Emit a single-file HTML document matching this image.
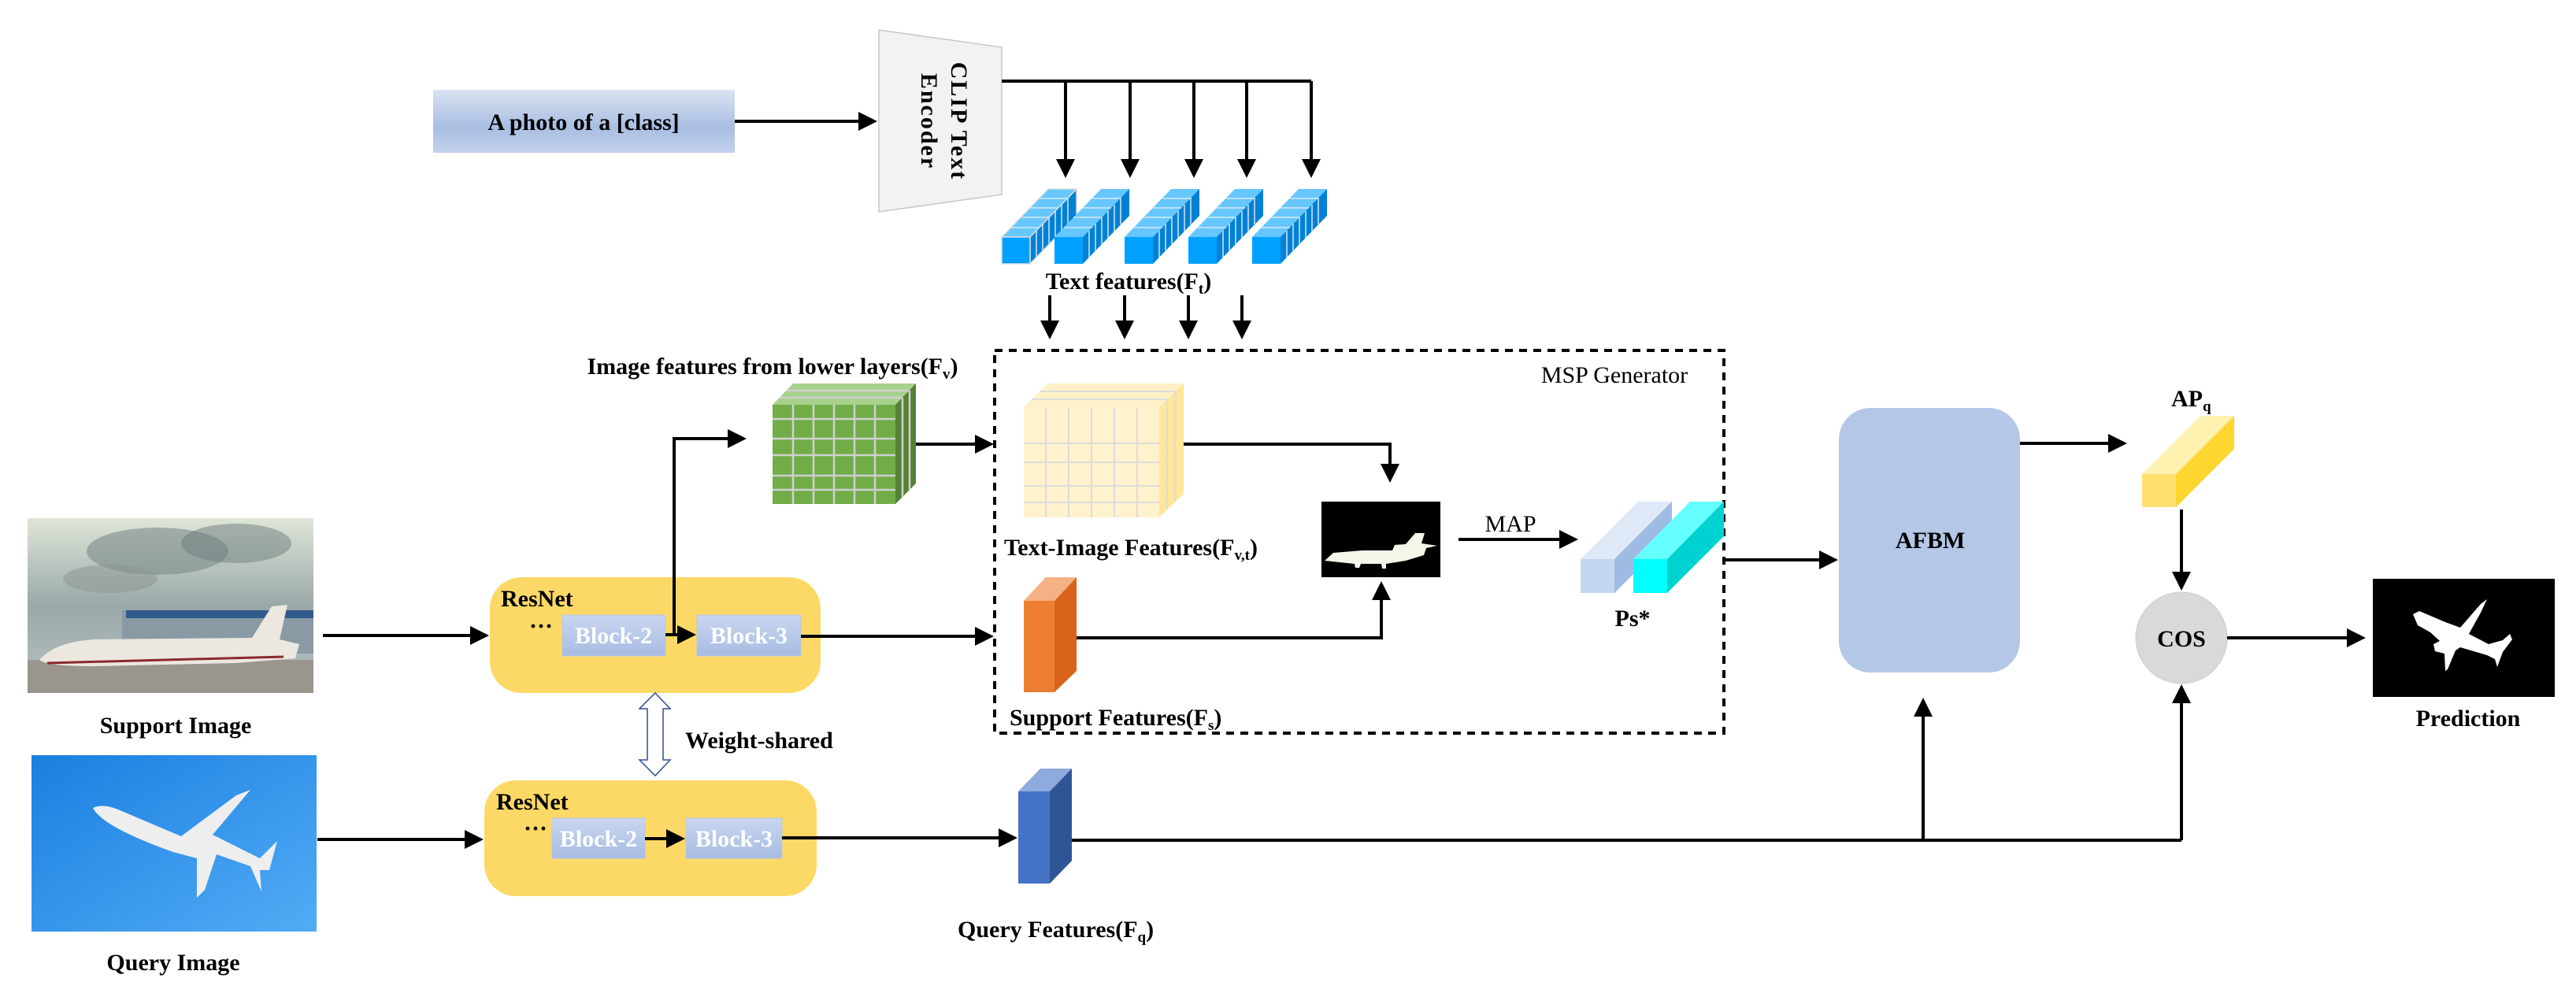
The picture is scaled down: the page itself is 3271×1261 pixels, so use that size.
<!DOCTYPE html>
<html><head><meta charset="utf-8"><style>
html,body{margin:0;padding:0;background:#fff}
svg{display:block}
text{font-family:"Liberation Serif",serif;font-weight:bold;font-size:30px;fill:#000}
</style></head><body>
<svg width="3271" height="1261" viewBox="0 0 3271 1261" xmlns="http://www.w3.org/2000/svg">
<defs>
<marker id="ah" markerWidth="6" markerHeight="6" refX="5" refY="3" orient="auto" markerUnits="strokeWidth">
<path d="M0,0 L6,3 L0,6 Z" fill="#000"/></marker>
<linearGradient id="gtb" x1="0" y1="0" x2="0" y2="1">
<stop offset="0" stop-color="#dae3f3"/><stop offset="0.6" stop-color="#a9bee2"/><stop offset="1" stop-color="#c3d1ec"/></linearGradient>
<linearGradient id="gbl" x1="0" y1="0" x2="0" y2="1">
<stop offset="0" stop-color="#c9d6ef"/><stop offset="1" stop-color="#a7bce3"/></linearGradient>
<linearGradient id="sky" x1="0" y1="0" x2="0" y2="1">
<stop offset="0" stop-color="#dfe6d8"/><stop offset="0.5" stop-color="#9aa8a8"/><stop offset="1" stop-color="#b8c2c4"/></linearGradient>
<linearGradient id="qsky" x1="0" y1="0" x2="1" y2="1">
<stop offset="0" stop-color="#1a7fe0"/><stop offset="1" stop-color="#52acf5"/></linearGradient>
</defs>

<!-- text prompt -->
<rect x="550" y="114" width="383" height="80" fill="url(#gtb)"/>
<text x="741" y="165" text-anchor="middle">A photo of a [class]</text>
<line x1="933" y1="154" x2="1110" y2="154" stroke="#000" stroke-width="4" marker-end="url(#ah)"/>

<!-- CLIP encoder -->
<polygon points="1116,38 1272,60 1272,247 1116,269" fill="#f2f2f2" stroke="#c8c8c8" stroke-width="1.5"/>
<text transform="translate(1208,154) rotate(90)" text-anchor="middle" font-size="32" letter-spacing="2">CLIP Text</text>
<text transform="translate(1170,154) rotate(90)" text-anchor="middle" font-size="32" letter-spacing="2">Encoder</text>

<!-- branch lines -->
<g stroke="#000" stroke-width="4" fill="none">
<line x1="1272" y1="103" x2="1665" y2="103"/>
<line x1="1353" y1="103" x2="1353" y2="222" marker-end="url(#ah)"/>
<line x1="1435" y1="103" x2="1435" y2="222" marker-end="url(#ah)"/>
<line x1="1516" y1="103" x2="1516" y2="222" marker-end="url(#ah)"/>
<line x1="1583" y1="103" x2="1583" y2="222" marker-end="url(#ah)"/>
<line x1="1665" y1="103" x2="1665" y2="222" marker-end="url(#ah)"/>
<line x1="1333" y1="375" x2="1333" y2="427" marker-end="url(#ah)"/>
<line x1="1428" y1="375" x2="1428" y2="427" marker-end="url(#ah)"/>
<line x1="1509" y1="375" x2="1509" y2="427" marker-end="url(#ah)"/>
<line x1="1577" y1="375" x2="1577" y2="427" marker-end="url(#ah)"/>
</g>

<!-- text feature bars -->
<g stroke="#ddd" stroke-width="1.5">
<g id="bar">
<polygon points="1272,301 1308,301 1367,240 1331,240" fill="#66c7ff"/>
<polygon points="1308,301 1308,335 1367,274 1367,240" fill="#0081d6"/>
<rect x="1272" y="301" width="36" height="34" fill="#00a0ff"/>
<g stroke="#d8e8f0" stroke-width="1.5">
<line x1="1316" y1="293" x2="1316" y2="327"/><line x1="1324" y1="284" x2="1324" y2="318"/>
<line x1="1332" y1="276" x2="1332" y2="310"/><line x1="1340" y1="268" x2="1340" y2="302"/>
<line x1="1348" y1="260" x2="1348" y2="294"/><line x1="1356" y1="251" x2="1356" y2="285"/>
<line x1="1284" y1="289" x2="1320" y2="289"/><line x1="1296" y1="276" x2="1332" y2="276"/>
<line x1="1308" y1="264" x2="1344" y2="264"/><line x1="1320" y1="252" x2="1356" y2="252"/>
</g></g>
</g>
<use href="#bar" x="67"/>
<use href="#bar" x="156"/>
<use href="#bar" x="237"/>
<use href="#bar" x="318"/>
<text x="1433" y="367" text-anchor="middle">Text features(F<tspan font-size="19" dy="6">t</tspan><tspan dy="-6">)</tspan></text>

<!-- Image features label + green cube -->
<text x="981" y="475" text-anchor="middle">Image features from lower layers(F<tspan font-size="19" dy="6">v</tspan><tspan dy="-6">)</tspan></text>
<polygon points="981,514 1137,514 1163,487 1007,487" fill="#a9d18e"/>
<polygon points="1137,514 1137,640 1163,614 1163,487" fill="#548235"/>
<rect x="981" y="514" width="156" height="126" fill="#70ad47"/>
<g stroke="#d0d0d0" stroke-width="2.5">
<line x1="1007" y1="514" x2="1007" y2="640"/><line x1="1033" y1="514" x2="1033" y2="640"/>
<line x1="1059" y1="514" x2="1059" y2="640"/><line x1="1085" y1="514" x2="1085" y2="640"/>
<line x1="1111" y1="514" x2="1111" y2="640"/>
<line x1="981" y1="532" x2="1137" y2="532"/><line x1="981" y1="557" x2="1137" y2="557"/>
<line x1="981" y1="578" x2="1137" y2="578"/><line x1="981" y1="604" x2="1137" y2="604"/>
<line x1="981" y1="622" x2="1137" y2="622"/>
<line x1="990" y1="505" x2="1146" y2="505"/><line x1="999" y1="496" x2="1155" y2="496"/>
<line x1="1146" y1="505" x2="1146" y2="631"/><line x1="1155" y1="496" x2="1155" y2="622"/>
</g>

<!-- Dashed MSP box -->
<rect x="1263" y="445" width="926" height="486" fill="none" stroke="#000" stroke-width="4" stroke-dasharray="10 8"/>
<text x="2050" y="486" text-anchor="middle" font-weight="normal" font-size="31" style="font-weight:normal">MSP Generator</text>

<!-- text-image cube -->
<polygon points="1300,517 1472,517 1503,487 1331,487" fill="#fff0c8"/>
<polygon points="1472,517 1472,657 1503,627 1503,487" fill="#ffe699"/>
<rect x="1300" y="517" width="172" height="140" fill="#fff2cc"/>
<g stroke="#dcdcdc" stroke-width="2">
<line x1="1328" y1="517" x2="1328" y2="657"/><line x1="1357" y1="517" x2="1357" y2="657"/>
<line x1="1386" y1="517" x2="1386" y2="657"/><line x1="1415" y1="517" x2="1415" y2="657"/>
<line x1="1444" y1="517" x2="1444" y2="657"/>
<line x1="1300" y1="563" x2="1472" y2="563"/><line x1="1300" y1="587" x2="1472" y2="587"/>
<line x1="1300" y1="617" x2="1472" y2="617"/><line x1="1300" y1="638" x2="1472" y2="638"/>
<line x1="1310" y1="507" x2="1482" y2="507"/><line x1="1320" y1="497" x2="1492" y2="497"/>
<line x1="1482" y1="507" x2="1482" y2="647"/><line x1="1492" y1="497" x2="1492" y2="637"/>
</g>
<text x="1275" y="705">Text-Image Features(F<tspan font-size="19" dy="6">v,t</tspan><tspan dy="-6">)</tspan></text>

<!-- support features block -->
<polygon points="1300,763 1339,763 1367,733 1328,733" fill="#f4b183"/>
<polygon points="1339,763 1339,879 1367,852 1367,733" fill="#d9631a"/>
<rect x="1300" y="763" width="39" height="116" fill="#ed7d31"/>
<text x="1282" y="921">Support Features(F<tspan font-size="19" dy="6">s</tspan><tspan dy="-6">)</tspan></text>

<!-- mask -->
<rect x="1678" y="637" width="151" height="96" fill="#000"/>
<path d="M1682,712 L1693,702 L1730,699 L1768,699 L1771,692 L1785,691 L1797,677 L1809,677 L1805,690 L1825,693 L1811,696 L1808,705 L1785,712 L1760,716 L1760,722 L1755,722 L1754,716 L1728,716 L1726,721 L1721,721 L1720,716 Z" fill="#f5f5ea"/>

<text x="1918" y="675" text-anchor="middle" style="font-weight:normal">MAP</text>

<!-- Ps* -->
<polygon points="2007,710 2050,710 2123,637 2080,637" fill="#dfe9f8"/>
<polygon points="2050,710 2050,753 2123,680 2123,637" fill="#a0bbe3"/>
<rect x="2007" y="710" width="43" height="43" fill="#c5d6f0"/>
<polygon points="2074,710 2117,710 2189,637 2146,637" fill="#66ffff"/>
<polygon points="2117,710 2117,753 2189,681 2189,637" fill="#00d2d2"/>
<rect x="2074" y="710" width="43" height="43" fill="#00ffff"/>
<text x="2073" y="795" text-anchor="middle">Ps*</text>

<!-- AFBM -->
<rect x="2335" y="518" width="230" height="336" rx="40" ry="40" fill="#b4c7e7"/>
<text x="2451" y="696" text-anchor="middle">AFBM</text>

<!-- APq -->
<text x="2757" y="516">AP<tspan font-size="19" dy="6">q</tspan></text>
<polygon points="2720,602 2763,602 2837,528 2794,528" fill="#fff2b0"/>
<polygon points="2763,602 2763,644 2837,570 2837,528" fill="#ffd530"/>
<rect x="2720" y="602" width="43" height="42" fill="#ffe070"/>

<!-- COS -->
<ellipse cx="2770" cy="810" rx="58" ry="58" fill="#d9d9d9" stroke="#ccc" stroke-width="1"/>
<text x="2770" y="821" text-anchor="middle">COS</text>

<!-- prediction -->
<rect x="3013" y="735" width="231" height="150" fill="#000"/>
<path d="M3064,780 L3072,776 L3105,790 L3124,797 L3150,767 L3158,761 L3150,778 L3135,805 L3160,818 L3178,813 L3187,805 L3190,812 L3178,828 L3171,847 L3168,837 L3158,832 L3124,822 L3118,826 L3108,850 L3105,852 L3104,830 L3092,827 L3090,818 L3098,814 L3086,803 L3070,794 Z" fill="#fff"/>
<text x="3134" y="922" text-anchor="middle">Prediction</text>

<!-- support image -->
<rect x="35" y="658" width="363" height="222" fill="url(#sky)"/>
<ellipse cx="200" cy="700" rx="90" ry="30" fill="#7d8a8a" opacity="0.6"/>
<ellipse cx="300" cy="690" rx="70" ry="25" fill="#6e7b7c" opacity="0.5"/>
<ellipse cx="140" cy="735" rx="60" ry="18" fill="#8a9494" opacity="0.5"/>
<rect x="155" y="775" width="243" height="55" fill="#8a9aa4"/>
<rect x="160" y="775" width="238" height="10" fill="#2f5b8c"/>
<rect x="35" y="838" width="363" height="42" fill="#9a968e"/>
<path d="M50,838 Q70,815 120,812 L320,810 L345,770 L365,768 L355,812 L380,818 L375,836 L300,842 L120,846 Q60,846 50,838 Z" fill="#ece8e0"/>
<line x1="60" y1="842" x2="360" y2="834" stroke="#8a2a2a" stroke-width="3"/>
<text x="223" y="931" text-anchor="middle">Support Image</text>

<!-- query image -->
<rect x="40" y="959" width="362" height="224" fill="url(#qsky)"/>
<path d="M118,1026 Q130,1020 150,1028 L230,1062 L300,1010 L318,1003 L270,1060 L330,1090 L352,1068 L342,1105 L330,1105 L332,1132 L318,1100 L275,1085 L260,1130 L250,1140 L250,1090 L220,1082 Q130,1050 118,1026 Z" fill="#eeeeee"/>
<text x="220" y="1232" text-anchor="middle">Query Image</text>

<!-- ResNet 1 -->
<rect x="622" y="733" width="420" height="147" rx="40" ry="40" fill="#fcd966"/>
<text x="636" y="770">ResNet</text>
<text x="672" y="805" font-size="24">···</text>
<rect x="714" y="781" width="131" height="52" fill="url(#gbl)" stroke="#b8c6e0"/>
<text x="779" y="817" text-anchor="middle" fill="#fff" style="fill:#fff">Block-2</text>
<rect x="885" y="781" width="132" height="52" fill="url(#gbl)" stroke="#b8c6e0"/>
<text x="951" y="817" text-anchor="middle" style="fill:#fff">Block-3</text>

<!-- ResNet 2 -->
<rect x="615" y="991" width="422" height="147" rx="40" ry="40" fill="#fcd966"/>
<text x="630" y="1028">ResNet</text>
<text x="665" y="1062" font-size="24">···</text>
<rect x="701" y="1039" width="118" height="51" fill="url(#gbl)" stroke="#b8c6e0"/>
<text x="760" y="1075" text-anchor="middle" style="fill:#fff">Block-2</text>
<rect x="871" y="1039" width="122" height="51" fill="url(#gbl)" stroke="#b8c6e0"/>
<text x="932" y="1075" text-anchor="middle" style="fill:#fff">Block-3</text>

<!-- weight shared -->
<polygon points="832,880 851,900 842,900 842,965 851,965 832,985 812,965 822,965 822,900 812,900" fill="#fff" stroke="#2f4f8f" stroke-width="1.5"/>
<text x="870" y="950">Weight-shared</text>

<!-- query features -->
<polygon points="1293,1005 1333,1005 1361,976 1321,976" fill="#8faadc"/>
<polygon points="1333,1005 1333,1122 1361,1093 1361,976" fill="#2f5597"/>
<rect x="1293" y="1005" width="40" height="117" fill="#4472c4"/>
<text x="1216" y="1190">Query Features(F<tspan font-size="19" dy="6">q</tspan><tspan dy="-6">)</tspan></text>

<!-- connectors -->
<g stroke="#000" stroke-width="4" fill="none">
<line x1="410" y1="807" x2="617" y2="807" marker-end="url(#ah)"/>
<polyline points="856,806 856,557 944,557" marker-end="url(#ah)"/>
<line x1="845" y1="806" x2="880" y2="806" marker-end="url(#ah)"/>
<line x1="1017" y1="808" x2="1258" y2="808" marker-end="url(#ah)"/>
<line x1="1163" y1="564" x2="1258" y2="564" marker-end="url(#ah)"/>
<polyline points="1503,564 1765,564 1765,609" marker-end="url(#ah)"/>
<polyline points="1367,810 1754,810 1754,742" marker-end="url(#ah)"/>
<line x1="1852" y1="685" x2="2000" y2="685" marker-end="url(#ah)"/>
<line x1="2189" y1="711" x2="2330" y2="711" marker-end="url(#ah)"/>
<line x1="2565" y1="563" x2="2697" y2="563" marker-end="url(#ah)"/>
<line x1="2770" y1="647" x2="2770" y2="746" marker-end="url(#ah)"/>
<line x1="2828" y1="810" x2="3000" y2="810" marker-end="url(#ah)"/>
<line x1="403" y1="1066" x2="610" y2="1066" marker-end="url(#ah)"/>
<line x1="819" y1="1065" x2="866" y2="1065" marker-end="url(#ah)"/>
<line x1="993" y1="1064" x2="1288" y2="1064" marker-end="url(#ah)"/>
<line x1="1361" y1="1067" x2="2770" y2="1067"/>
<line x1="2442" y1="1067" x2="2442" y2="890" marker-end="url(#ah)"/>
<line x1="2770" y1="1067" x2="2770" y2="873" marker-end="url(#ah)"/>
</g>
</svg>
</body></html>
